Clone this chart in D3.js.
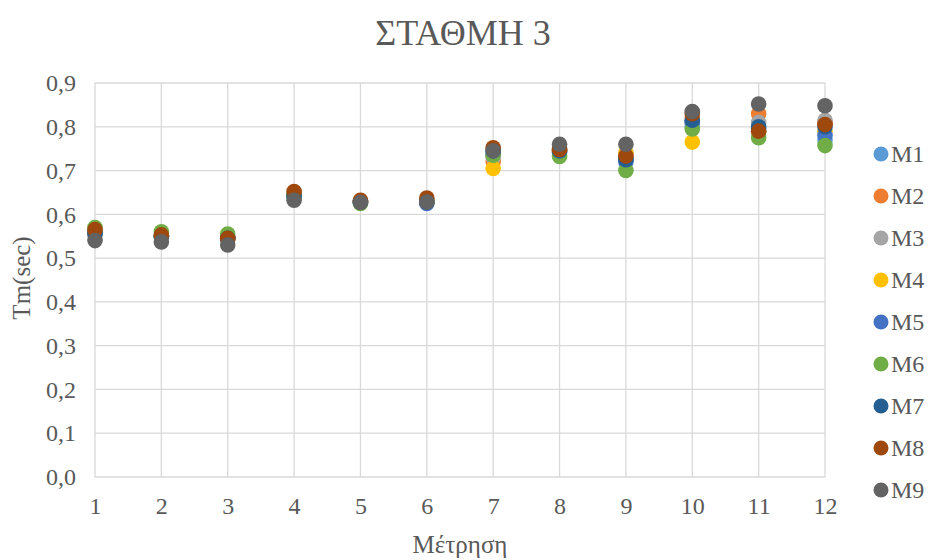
<!DOCTYPE html>
<html>
<head>
<meta charset="utf-8">
<script src="https://cdn.jsdelivr.net/npm/d3@7"></script>
<style>
  body { margin: 0; background: #fff; }
  text { font-family: "Liberation Serif", "Times New Roman", serif; fill: #595959; }
</style>
</head>
<body>
<div id="vis"></div>
<script>
// measurements 1..12
const measurements = [1, 2, 3, 4, 5, 6, 7, 8, 9, 10, 11, 12];
const seriesNames = ['M1', 'M2', 'M3', 'M4', 'M5', 'M6', 'M7', 'M8', 'M9'];
const colors = ['#5B9BD5', '#ED7D31', '#A5A5A5', '#FFC000', '#4472C4', '#70AD47', '#255E91', '#9E480E', '#636363'];

const M1 = [0.555, 0.550, 0.545, 0.640, 0.628, 0.628, 0.735, 0.745, 0.725, 0.800, 0.790, 0.770];
const M2 = [0.560, 0.552, 0.548, 0.645, 0.630, 0.630, 0.720, 0.745, 0.735, 0.820, 0.830, 0.810];
const M3 = [0.558, 0.550, 0.545, 0.642, 0.628, 0.630, 0.730, 0.750, 0.740, 0.810, 0.810, 0.815];
const M4 = [0.555, 0.550, 0.545, 0.640, 0.628, 0.628, 0.705, 0.745, 0.740, 0.765, 0.790, 0.790];
const M5 = [0.555, 0.550, 0.545, 0.640, 0.627, 0.625, 0.740, 0.742, 0.720, 0.810, 0.795, 0.780];
const M6 = [0.570, 0.560, 0.555, 0.645, 0.625, 0.630, 0.735, 0.732, 0.700, 0.795, 0.775, 0.757];
const M7 = [0.558, 0.550, 0.545, 0.642, 0.628, 0.628, 0.745, 0.745, 0.725, 0.815, 0.800, 0.800];
const M8 = [0.565, 0.553, 0.545, 0.652, 0.632, 0.637, 0.752, 0.748, 0.733, 0.830, 0.790, 0.805];
const M9 = [0.540, 0.537, 0.530, 0.632, 0.627, 0.628, 0.745, 0.760, 0.760, 0.835, 0.852, 0.848];
const allSeries = [M1, M2, M3, M4, M5, M6, M7, M8, M9];

const yTicks = [0, 0.1, 0.2, 0.3, 0.4, 0.5, 0.6, 0.7, 0.8, 0.9];

const W = 932, H = 560;
const margin = {top: 83, right: 107, bottom: 83, left: 95};
const width = W - margin.left - margin.right;
const height = H - margin.top - margin.bottom;

const root = d3.select('#vis').append('svg')
  .attr('width', W).attr('height', H);

const svg = root.append('g')
  .attr('transform', `translate(${margin.left},${margin.top})`);

const xScale = d3.scaleLinear().domain([1, 12]).range([0, width]);
const yScale = d3.scaleLinear().domain([0, 0.9]).range([height, 0]);

// gridlines
svg.selectAll('.hgrid').data(yTicks).join('line')
  .attr('class', 'hgrid')
  .attr('x1', 0).attr('x2', width)
  .attr('y1', d => yScale(d)).attr('y2', d => yScale(d))
  .attr('stroke', '#d9d9d9').attr('stroke-width', 1.3);

svg.selectAll('.vgrid').data(measurements).join('line')
  .attr('class', 'vgrid')
  .attr('x1', d => xScale(d)).attr('x2', d => xScale(d))
  .attr('y1', 0).attr('y2', height)
  .attr('stroke', '#d9d9d9').attr('stroke-width', 1.3);

// axes (tick labels only)
const fmt = d => d.toFixed(1).replace('.', ',');
const yAxis = svg.append('g')
  .call(d3.axisLeft(yScale).tickValues(yTicks).tickFormat(fmt).tickSize(0).tickPadding(19));
yAxis.select('.domain').remove();
yAxis.selectAll('text').style('font-size', '24px').attr('fill', '#595959');

const xAxis = svg.append('g')
  .attr('transform', `translate(0,${height})`)
  .call(d3.axisBottom(xScale).tickValues(measurements).tickFormat(d3.format('d')).tickSize(0).tickPadding(20));
xAxis.select('.domain').remove();
xAxis.selectAll('text').style('font-size', '24px').attr('fill', '#595959');

// points
allSeries.forEach((vals, i) => {
  svg.selectAll('.pt' + i)
    .data(vals)
    .join('circle')
    .attr('class', 'pt' + i)
    .attr('cx', (d, j) => xScale(measurements[j]))
    .attr('cy', d => yScale(d))
    .attr('r', 7.8)
    .attr('fill', colors[i]);
});

// title
root.append('text')
  .attr('x', 463).attr('y', 45)
  .attr('text-anchor', 'middle')
  .style('font-size', '36px')
  .text('ΣΤΑΘΜΗ 3');

// axis titles
root.append('text')
  .attr('x', 460).attr('y', 553)
  .attr('text-anchor', 'middle')
  .style('font-size', '25px')
  .text('Μέτρηση');

root.append('text')
  .attr('transform', 'rotate(-90)')
  .attr('x', -278).attr('y', 30)
  .attr('text-anchor', 'middle')
  .style('font-size', '25px')
  .text('Tm(sec)');

// legend
const legend = root.append('g').attr('transform', 'translate(881,154)');
const items = legend.selectAll('g').data(seriesNames).join('g')
  .attr('transform', (d, i) => `translate(0,${i * 42})`);
items.append('circle').attr('r', 7.5).attr('fill', (d, i) => colors[i]);
items.append('text')
  .attr('x', 10).attr('dy', '0.35em')
  .style('font-size', '24px')
  .text(d => d);
</script>
</body>
</html>
